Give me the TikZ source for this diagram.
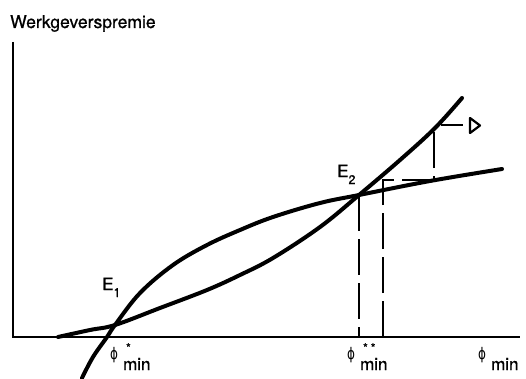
\documentclass[tikz,border=0pt]{standalone}
\usepackage{fontspec}
\setmainfont{TeX Gyre Heros}[FakeBold=0.8]
\newfontfamily\phifont{DejaVu Sans}[FakeStretch=0.75]
\usepackage{tikz}
\usetikzlibrary{arrows.meta, positioning, calc}
\tikzset{
  curveline/.style={
    line width=4pt, line cap=round, black
  },
  axisline/.style={
    line width=1.8pt, black
  },
  dashline/.style={
    line width=1.8pt, dash pattern=on 36pt off 8pt
  },
  tipline/.style={
    line width=2.2pt, line join=round
  },
  axislabel/.style={
    font=\fontsize{17}{19}\selectfont, inner sep=0pt, anchor=base west
  },
  pointlabel/.style={
    font=\fontsize{17}{19}\selectfont, inner sep=0pt, anchor=base west
  },
}
\newcommand\lowidx[2]{#1\raisebox{-7pt}{\fontsize{12.5}{13}\selectfont #2}}
\newcommand\phimin[1]{{\phifont\fontsize{16}{16}\selectfont\char"03D5}\hspace{5pt}%
  \raisebox{-11pt}{\rlap{\hspace{3pt}\raisebox{18pt}{\fontsize{12}{12}\selectfont #1}}min}}

\begin{document}
\begin{tikzpicture}[x=1pt, y=1pt]
  \useasboundingbox (0,0) rectangle (526,378);

  % === Axes ===
  \coordinate (origin) at (13,41);
  \coordinate (ytop) at (13,336);
  \coordinate (xend) at (520,41);
  \draw[axisline] (ytop) -- (origin) -- (xend);
  \node[axislabel] (ytitle) at (10,350) {\fontsize{17.5}{20}\selectfont Werkgeverspremie};

  % === Equilibria ===
  \coordinate (E1) at (115,53);
  \coordinate (E2) at (359,183);

  % === Curves ===
  \draw[curveline] plot[smooth, tension=0.6] coordinates {
    (82,0) (93,21) (107,41) (E1) (140,85) (173,113) (207,133) (240,148)
    (273,161) (320,175) (E2) (430,197) (502,209)};
  \draw[curveline] plot[smooth, tension=0.6] coordinates {
    (58,41) (90,48) (E1) (160,70) (207,88) (240,103) (273,120)
    (320,151) (E2) (400,218) (435,250) (462,280)};

  % === Guide lines ===
  \coordinate (E2foot) at (E2 |- origin);
  \coordinate (stepfoot) at (383,41);
  \coordinate (stepcorner) at (383,198);
  \coordinate (stepright) at (434,198);
  \coordinate (steptop) at (434,247);
  \draw[dashline] (E2) -- (E2foot);
  \draw[dashline] (stepfoot) -- (stepcorner) -- (stepright) -- (steptop);

  % === Direction mark ===
  \coordinate (markstart) at (441,253);
  \coordinate (markend) at (463,253);
  \draw[tipline] (markstart) -- (markend);
  \draw[tipline] (470,245) -- (470,260) -- (480,252.5) -- cycle;

  % === Labels ===
  \node[pointlabel] (E1label) at (102,88) {\lowidx{E}{1}};
  \node[pointlabel] (E2label) at (337,201) {\lowidx{E}{2}};
  \node[axislabel] (phistar) at (110,19) {\phimin{*}};
  \node[axislabel] (phistarstar) at (347,19) {\phimin{*\hspace{3pt}*}};
  \node[axislabel] (phiaxis) at (478,19) {\phimin{}};

\end{tikzpicture}
\end{document}
